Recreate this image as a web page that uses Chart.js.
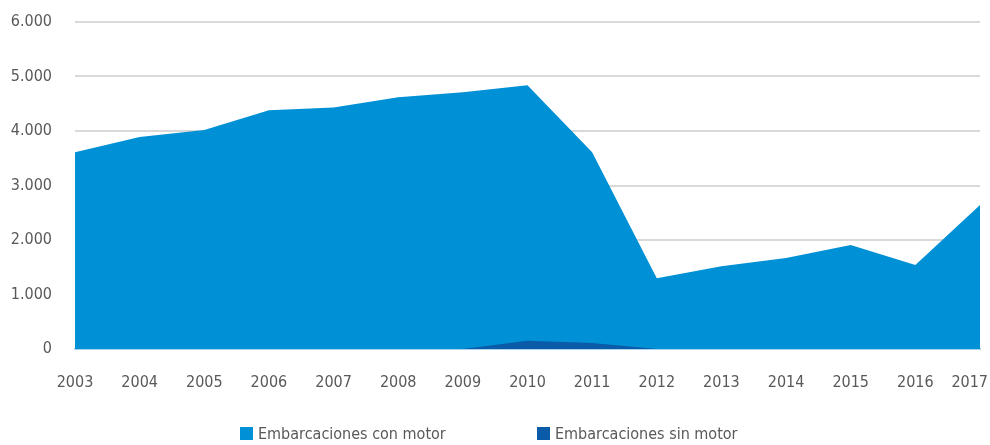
<!DOCTYPE html>
<html>
<head>
<meta charset="utf-8">
<script src="https://cdn.jsdelivr.net/npm/chart.js@4"></script>
<style>
  html, body { margin: 0; padding: 0; background: #fff; }
  #wrap { position: relative; width: 990px; height: 445px; }
  #legend {
    position: absolute; top: 424px; left: 0; width: 990px; height: 20px;
    font-family: 'Liberation Sans Narrow', 'DejaVu Sans Condensed', sans-serif;
    font-size: 16px; color: #595959;
  }
  .item { position: absolute; top: 0; white-space: nowrap; line-height: 20px; }
  .box { display: inline-block; width: 13px; height: 13px; margin-right: 5px; vertical-align: -1px; }
</style>
</head>
<body>
<div id="wrap">
  <canvas id="chart" width="990" height="445"></canvas>
  <div id="legend"></div>
</div>
<script>
// years on the x axis
const years = ['2003','2004','2005','2006','2007','2008','2009','2010','2011','2012','2013','2014','2015','2016','2017'];
// values
const conMotor = [3610, 3890, 4020, 4380, 4430, 4620, 4710, 4840, 3610, 1300, 1520, 1670, 1910, 1540, 2640];
const sinMotor = [0, 0, 0, 0, 0, 0, 0, 150, 110, 0, 0, 0, 0, 0, 0];
const seriesNames = ['Embarcaciones con motor', 'Embarcaciones sin motor'];
const seriesColors = ['#0090d5', '#0a5ba8'];

const FONT = "'Liberation Sans Narrow', 'DejaVu Sans Condensed', sans-serif";

// legend as html so the spacing can match
const legendEl = document.getElementById('legend');
const legendX = [240, 537];
seriesNames.forEach((name, i) => {
    const d = document.createElement('div');
    d.className = 'item';
    d.style.left = legendX[i] + 'px';
    d.innerHTML = `<span class="box" style="background:${seriesColors[i]}"></span>${name}`;
    legendEl.appendChild(d);
});

// keep the last year label inside the canvas (right aligned at the edge)
const lastLabelFix = {
    id: 'lastLabelFix',
    beforeDraw(chart) {
        const items = chart.scales.x.getLabelItems();
        const last = items[items.length - 1];
        if (last && last.options.textAlign !== 'right') {
            last.options.textAlign = 'right';
            last.options.translation[0] = chart.width - 2;
        }
    }
};

const ctx = document.getElementById('chart').getContext('2d');
new Chart(ctx, {
    type: 'line',
    data: {
        labels: years,
        datasets: [
            {
                label: seriesNames[1],
                data: sinMotor,
                backgroundColor: seriesColors[1],
                borderWidth: 0,
                pointRadius: 0,
                fill: 'origin',
                tension: 0,
                order: 0
            },
            {
                label: seriesNames[0],
                data: conMotor,
                backgroundColor: seriesColors[0],
                borderWidth: 0,
                pointRadius: 0,
                fill: 'origin',
                tension: 0,
                order: 1
            }
        ]
    },
    options: {
        responsive: false,
        animation: false,
        layout: { padding: { top: 22, right: 10, left: 0, bottom: 0 } },
        plugins: {
            legend: { display: false },
            tooltip: { enabled: false }
        },
        scales: {
            x: {
                offset: false,
                z: 1,
                grid: { display: false, drawTicks: false },
                border: { display: true, color: '#a9d2ee', width: 2 },
                ticks: {
                    color: '#595959',
                    font: { family: FONT, size: 16 },
                    padding: 24,
                    maxRotation: 0,
                    autoSkip: false
                },
                afterFit: function(scale) {
                    scale.height = 96;
                    scale.paddingLeft = 0;
                    scale.paddingRight = 0;
                }
            },
            y: {
                min: 0,
                max: 6000,
                grid: {
                    color: function(c) { return c.index === 0 ? 'rgba(0,0,0,0)' : '#d9d9d9'; },
                    lineWidth: 2,
                    drawTicks: false
                },
                border: { display: false },
                ticks: {
                    stepSize: 1000,
                    color: '#595959',
                    font: { family: FONT, size: 16 },
                    padding: 23,
                    callback: function(v) { return v.toLocaleString('de-DE'); }
                },
                afterFit: function(scale) {
                    scale.width = 75;
                    scale.paddingTop = 0;
                    scale.paddingBottom = 0;
                }
            }
        }
    },
    plugins: [lastLabelFix]
});
</script>
</body>
</html>
